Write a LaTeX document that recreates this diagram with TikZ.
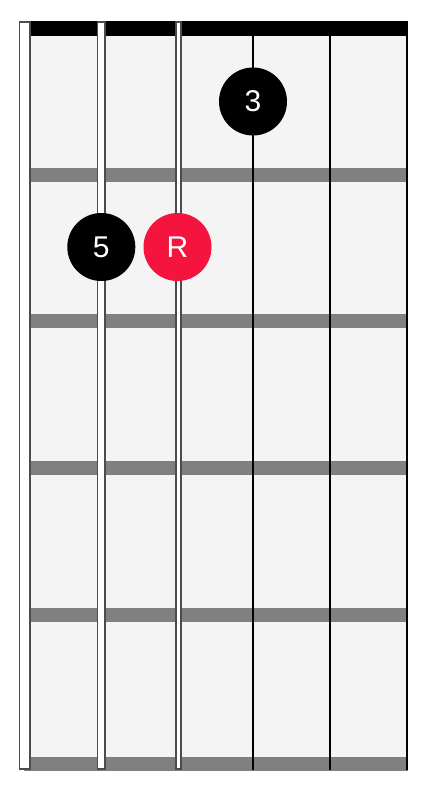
\documentclass[tikz,border=0pt]{standalone}
\usepackage{fontspec}
\setmainfont{Liberation Sans}

\definecolor{board}{HTML}{F4F4F4}
\definecolor{fretgray}{HTML}{808080}
\definecolor{rootred}{HTML}{F4143E}

\tikzset{
  fretbar/.style={fill=fretgray},
  wound/.style={fill=white, draw=black!70, line width=1.8pt},
  thinstring/.style={draw=black, line width=1.7pt},
  dot/.style={circle, fill=black, minimum size=68pt, inner sep=0pt, text=white,
    font=\fontsize{30}{30}\selectfont},
  rootdot/.style={dot, fill=rootred},
}

\begin{document}
\begin{tikzpicture}[x=1pt,y=-1pt]
\useasboundingbox (0,0) rectangle (428,788);

% board
\fill[board] (30,35) rectangle (407,760);

% frets
\fill[fretbar] (30,168) rectangle (407,181.5);
\fill[fretbar] (30,314) rectangle (407,327.5);
\fill[fretbar] (30,461) rectangle (407,474.5);
\fill[fretbar] (30,608) rectangle (407,621.5);
\fill[fretbar] (24,757) rectangle (408,770.5);

% nut
\fill (24,21) rectangle (408,35.5);

% strings
\draw[wound] (19.4,21.8) rectangle (29.6,769.2);
\draw[wound] (97.4,21.8) rectangle (105.2,769.2);
\draw[wound] (175.6,21.8) rectangle (181,769.2);
\draw[thinstring] (253,21) -- (253,770);
\draw[thinstring] (330,21) -- (330,770);
\draw[thinstring] (407.2,21) -- (407.2,770);

% notes
\node[dot] (third) at (253,101.5) {3};
\node[dot] (fifth) at (101.3,247) {5};
\node[rootdot] (root) at (177.5,247) {R};
\end{tikzpicture}
\end{document}
